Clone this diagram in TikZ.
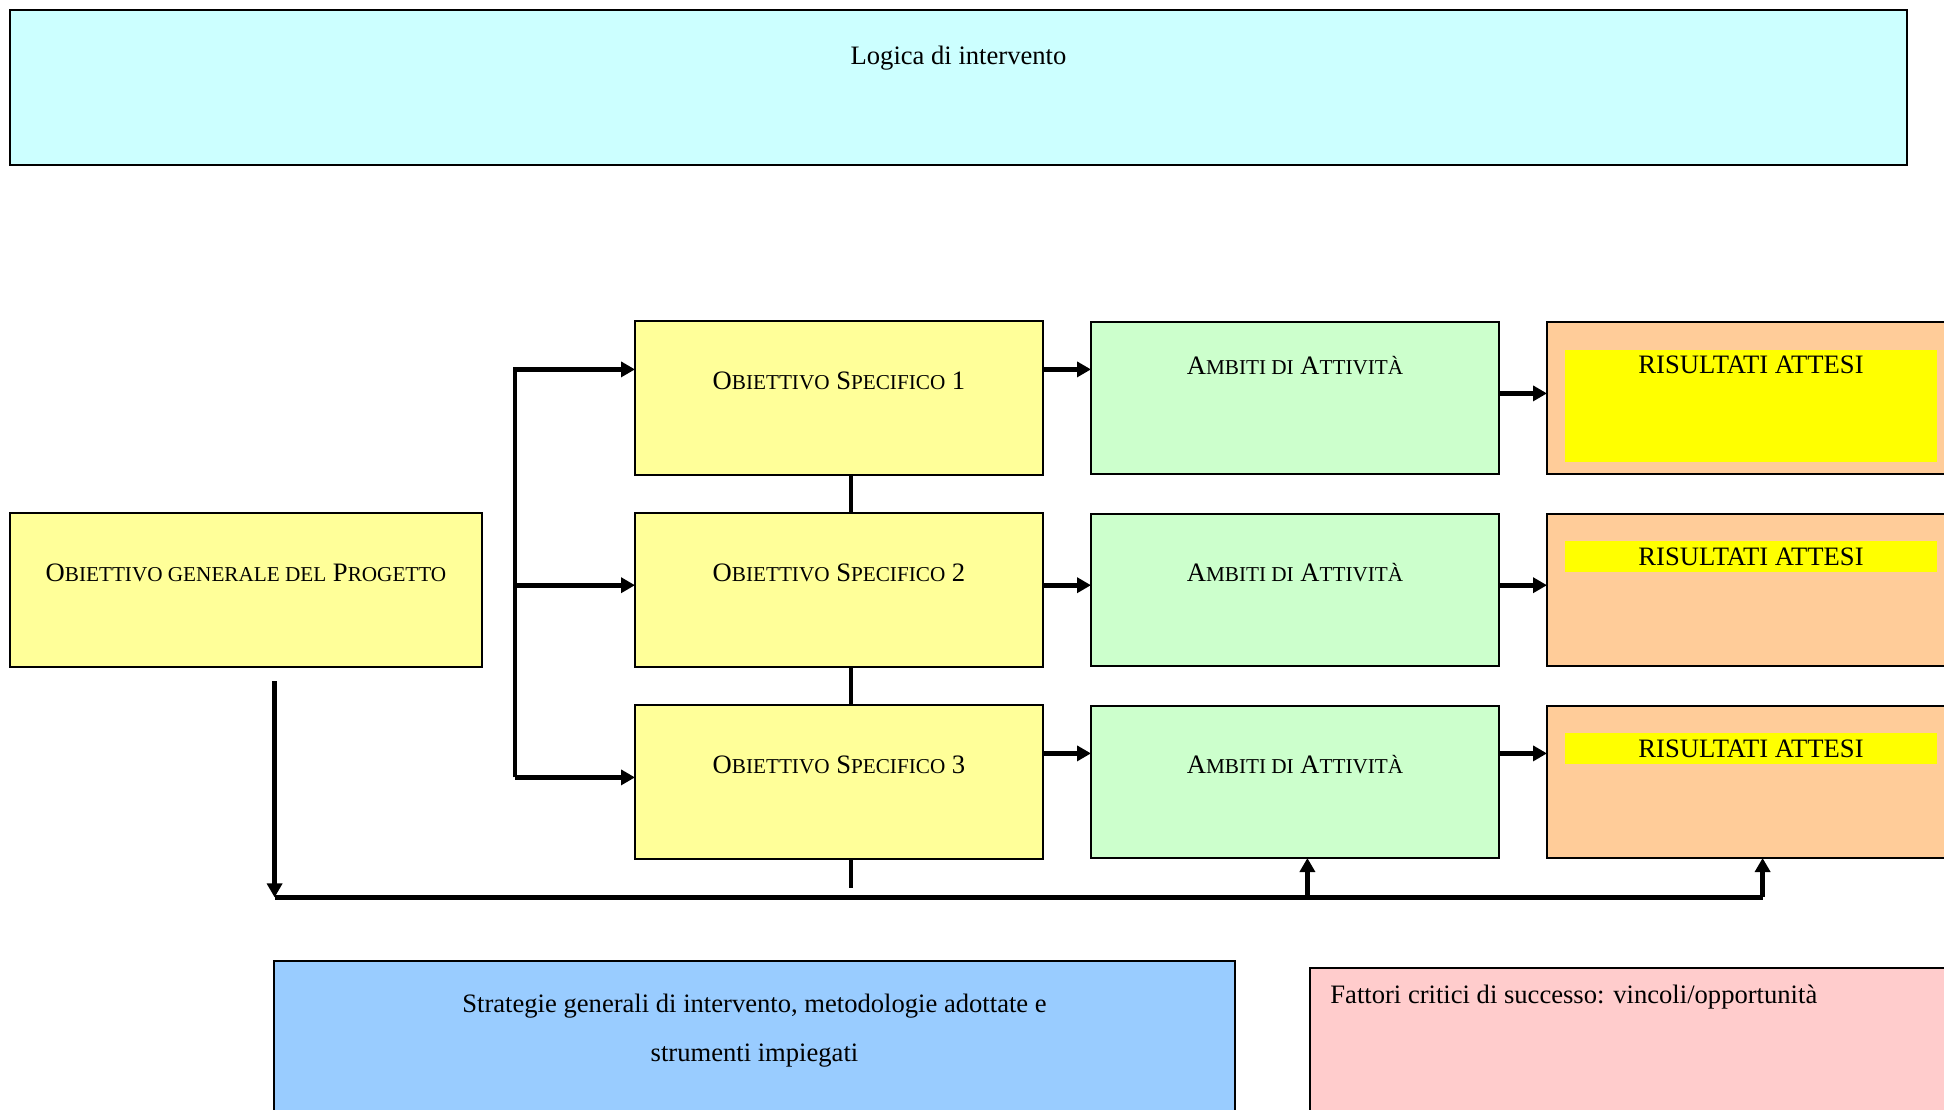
\documentclass[tikz,border=0pt]{standalone}
\usepackage{fontspec}
\setmainfont{Liberation Serif}
\usetikzlibrary{positioning,arrows.meta}

\definecolor{logicfill}{HTML}{CCFFFF}
\definecolor{goalfill}{HTML}{FFFF99}
\definecolor{actfill}{HTML}{CCFFCC}
\definecolor{resfill}{HTML}{FFCC99}
\definecolor{markfill}{HTML}{FFFF00}
\definecolor{stratfill}{HTML}{99CCFF}
\definecolor{riskfill}{HTML}{FFCCCC}

\newcommand\minor[1]{{\fontsize{10.6}{12}\selectfont #1}}

\begin{document}
\begin{tikzpicture} [
x=1pt, y=-1pt,
font=\fontsize{13.3}{16}\selectfont,
box/.style={rectangle, draw=black, line width=1pt, outer sep=0pt, inner sep=0pt},
logicnode/.style={box, fill=logicfill, minimum width=948.5pt, minimum height=77.5pt},
goalnode/.style={box, fill=goalfill, minimum width=204pt, minimum height=77pt},
actnode/.style={box, fill=actfill, minimum width=204pt, minimum height=76pt},
resnode/.style={box, fill=resfill, minimum width=204pt, minimum height=76pt},
markband/.style={rectangle, fill=markfill, inner sep=0pt, outer sep=0pt, minimum width=186pt},
caption/.style={inner sep=0pt, text height=9pt, text depth=0pt},
link/.style={line width=2.4pt},
arrow/.style={link, -{Triangle[length=7pt,width=7.5pt]}},
]
\path[use as bounding box] (0,0) rectangle (972,554.5);
\clip (0,0) rectangle (972,554.5);

%Nodes
\node[logicnode]   (logic)      at (479.25,43.75)              {};
\node[caption]     (logictxt)   [below=18pt of logic.north]   {Logica di intervento};

\node[goalnode, minimum width=236pt] (general) at (123,295)   {};
\node[caption]     (generaltxt) [below=24.9pt of general.north]
  {O\minor{BIETTIVO GENERALE DEL} P\minor{ROGETTO}};

\node[goalnode]    (spec2)      [right=76.5pt of general]     {};
\node[goalnode]    (spec1)      [above=19pt of spec2]         {};
\node[goalnode]    (spec3)      [below=19pt of spec2]         {};
\node[caption]     (spec1txt)   [below=24.8pt of spec1.north] {O\minor{BIETTIVO} S\minor{PECIFICO} 1};
\node[caption]     (spec2txt)   [below=24.8pt of spec2.north] {O\minor{BIETTIVO} S\minor{PECIFICO} 2};
\node[caption]     (spec3txt)   [below=24.8pt of spec3.north] {O\minor{BIETTIVO} S\minor{PECIFICO} 3};

\node[actnode]     (act1)       [right=24pt of spec1]         {};
\node[actnode]     (act2)       [right=24pt of spec2]         {};
\node[actnode]     (act3)       [right=24pt of spec3]         {};
\node[caption]     (act1txt)    [below=16.9pt of act1.north]  {A\minor{MBITI DI} A\minor{TTIVITÀ}};
\node[caption]     (act2txt)    [below=24.4pt of act2.north]  {A\minor{MBITI DI} A\minor{TTIVITÀ}};
\node[caption]     (act3txt)    [below=24.4pt of act3.north]  {A\minor{MBITI DI} A\minor{TTIVITÀ}};

\node[resnode]     (res1)       [right=24pt of act1]          {};
\node[resnode]     (res2)       [right=24pt of act2]          {};
\node[resnode]     (res3)       [right=24pt of act3]          {};
\node[markband, minimum height=56pt]   (band1) [below=14pt of res1.north]   {};
\node[markband, minimum height=15.5pt] (band2) [below=13.3pt of res2.north] {};
\node[markband, minimum height=15.5pt] (band3) [below=13.3pt of res3.north] {};
\node[caption]     (res1txt)    [below=16.6pt of res1.north]  {RISULTATI ATTESI};
\node[caption]     (res2txt)    [below=16.6pt of res2.north]  {RISULTATI ATTESI};
\node[caption]     (res3txt)    [below=16.6pt of res3.north]  {RISULTATI ATTESI};

\node[box, fill=stratfill, minimum width=480.5pt, minimum height=120pt] (strategy) at (377.25,540.5) {};
\node[inner sep=0pt, align=center, font=\fontsize{13.3}{24.2}\selectfont] (strategytxt)
  [below=16.5pt of strategy.north]
  {Strategie generali di intervento, metodologie adottate e\\strumenti impiegati};

\node[box, fill=riskfill, minimum width=330pt, minimum height=120pt] (factors) at (820,544) {};
\node[caption]     (factorstxt) [below right=8.5pt and 10pt of factors.north west]
  {Fattori critici di successo: vincoli/opportunità};

%Coordinates
\coordinate (fork1) at ([xshift=-60pt,yshift=-24.2pt]spec1.north west);
\coordinate (fork2) at ([xshift=-60pt,yshift=-36.1pt]spec2.north west);
\coordinate (fork3) at ([xshift=-60pt,yshift=-36.2pt]spec3.north west);
\coordinate (spec1out) at ([yshift=-24.2pt]spec1.north east);
\coordinate (spec2out) at ([yshift=-36.1pt]spec2.north east);
\coordinate (spec3out) at ([yshift=-24.2pt]spec3.north east);
\coordinate (act1out) at ([yshift=-35.7pt]act1.north east);
\coordinate (act2out) at ([yshift=-35.6pt]act2.north east);
\coordinate (act3out) at ([yshift=-23.7pt]act3.north east);
\coordinate (stub) at ([xshift=6pt,yshift=-14.4pt]spec3.south);
\coordinate (drop) at ([xshift=14.3pt,yshift=-7pt]general.south);
\coordinate (busmid) at ([yshift=-19.2pt]spec3.south);
\coordinate (act3in) at ([xshift=6.2pt]act3.south);
\coordinate (res3in) at ([xshift=5.8pt]res3.south);
\coordinate (busleft) at (drop |- busmid);
\coordinate (busright) at (res3in |- busmid);

%Lines
\draw[arrow] (fork3) -- (fork1) -- (fork1 -| spec1.west);
\draw[arrow] (fork2) -- (fork2 -| spec2.west);
\draw[arrow] (fork3) -- (fork3 -| spec3.west);

\draw[arrow] (spec1out) -- (spec1out -| act1.west);
\draw[arrow] (spec2out) -- (spec2out -| act2.west);
\draw[arrow] (spec3out) -- (spec3out -| act3.west);

\draw[arrow] (act1out) -- (act1out -| res1.west);
\draw[arrow] (act2out) -- (act2out -| res2.west);
\draw[arrow] (act3out) -- (act3out -| res3.west);

\draw[link] ([xshift=6pt]spec1.south) -- ([xshift=6pt]spec2.north);
\draw[link] ([xshift=6pt]spec2.south) -- ([xshift=6pt]spec3.north);
\draw[link] ([xshift=6pt]spec3.south) -- (stub);

\draw[arrow] (drop) -- (busleft);
\draw[link] (busleft) -- (busright);
\draw[arrow] (act3in |- busmid) -- (act3in);
\draw[arrow] (busright) -- (res3in);

\end{tikzpicture}
\end{document}
